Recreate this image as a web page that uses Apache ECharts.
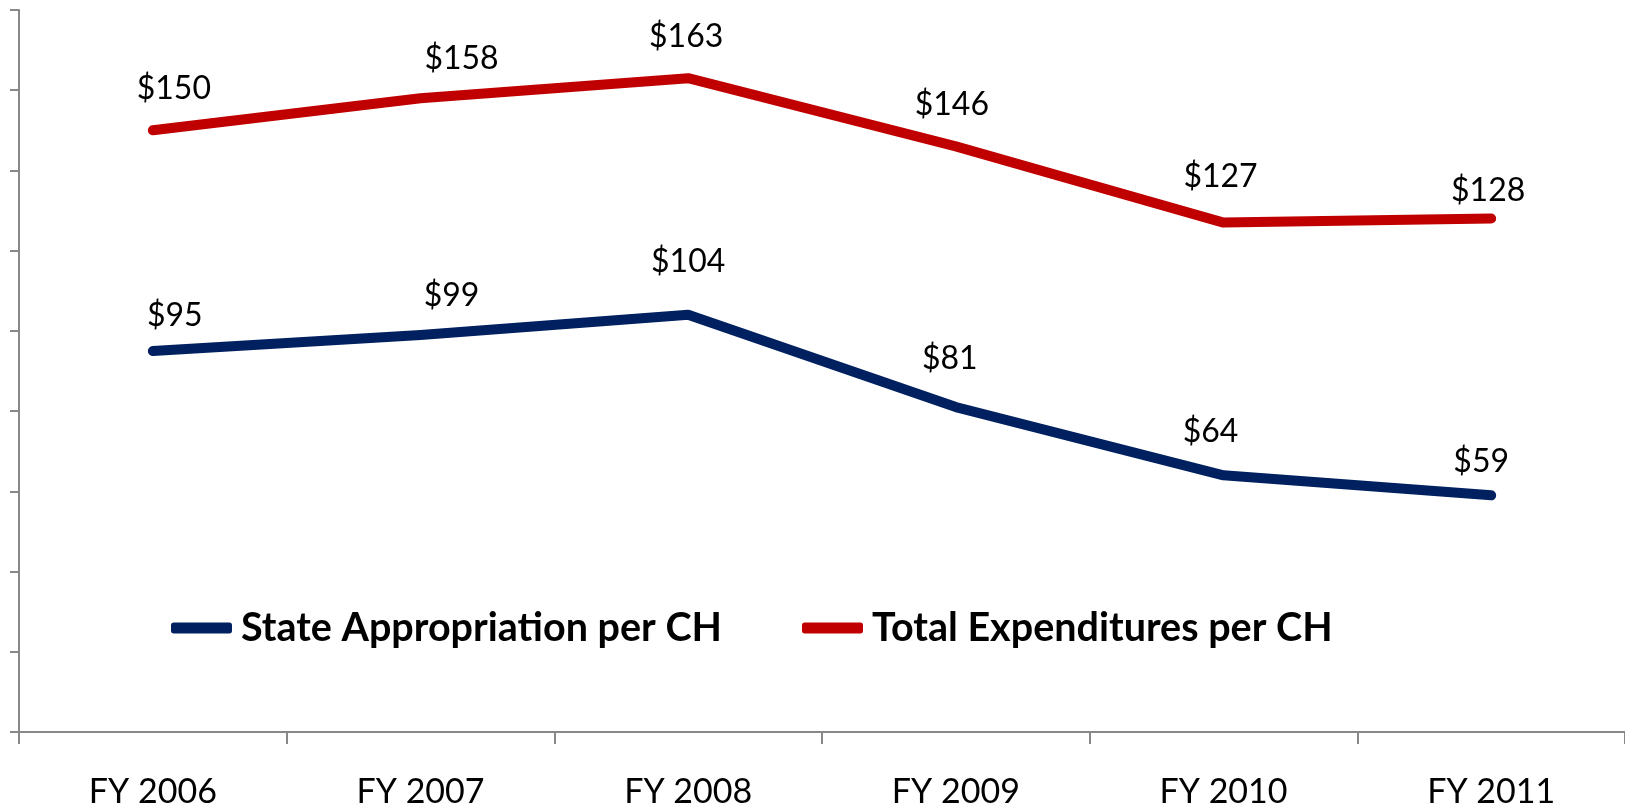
<!DOCTYPE html>
<html>
<head>
<meta charset="utf-8">
<script src="https://cdn.jsdelivr.net/npm/echarts@6/dist/echarts.min.js"></script>
<style>html,body{margin:0;padding:0;background:#fff}#c{width:1625px;height:809px}</style>
</head>
<body>
<div id="c"></div>
<script>
var categories = ['FY 2006', 'FY 2007', 'FY 2008', 'FY 2009', 'FY 2010', 'FY 2011'];
var stateAppropriation = [95, 99, 104, 81, 64, 59];
var totalExpenditures = [150, 158, 163, 146, 127, 128];
var seriesNames = ['State Appropriation per CH', 'Total Expenditures per CH'];
// label offsets (px) relative to each point
var stateLabelOffsets = [[22, -35], [31, -39], [0, -53], [-6, -48], [-13, -44], [-10, -34]];
var totalLabelOffsets = [[21, -42], [41, -40], [-2, -42], [-4, -42], [-3, -46], [-3, -28]];

function buildData(values, offsets) {
  return values.map(function (v, i) {
    return { value: v, label: { offset: offsets[i] } };
  });
}

var chart = echarts.init(document.getElementById('c'));
var labelStyle = {
  show: true, position: 'inside', color: '#000',
  fontFamily: 'Lato', fontSize: 32,
  formatter: function (p) { return '$' + p.value; }
};
chart.setOption({
  animation: false,
  grid: { left: 19, right: -6, top: 10, bottom: 73 },
  legend: {
    left: 166, top: 603,
    itemWidth: 61, itemHeight: 11, itemGap: 80,
    icon: 'roundRect',
    textStyle: { fontFamily: 'Lato', fontWeight: 'bold', fontSize: 39.5, color: '#000', padding: [0, 0, 0, 4] },
    data: seriesNames
  },
  xAxis: {
    type: 'category', data: categories, boundaryGap: true,
    axisLine: { lineStyle: { color: '#888', width: 2 } },
    axisTick: { show: true, length: 12, lineStyle: { color: '#888', width: 2 } },
    axisLabel: { color: '#000', fontFamily: 'Lato', fontSize: 34, margin: 43 }
  },
  yAxis: {
    type: 'value', min: 0, max: 180, interval: 20,
    axisLine: { show: true, lineStyle: { color: '#888', width: 2 } },
    axisTick: { show: true, length: 9, lineStyle: { color: '#888', width: 2 } },
    axisLabel: { show: false },
    splitLine: { show: false }
  },
  series: [
    {
      name: seriesNames[0], type: 'line',
      data: buildData(stateAppropriation, stateLabelOffsets),
      symbol: 'circle', symbolSize: 0.1,
      itemStyle: { color: '#002060' },
      lineStyle: { color: '#002060', width: 10, cap: 'round', join: 'round' },
      label: labelStyle
    },
    {
      name: seriesNames[1], type: 'line',
      data: buildData(totalExpenditures, totalLabelOffsets),
      symbol: 'circle', symbolSize: 0.1,
      itemStyle: { color: '#C00000' },
      lineStyle: { color: '#C00000', width: 10, cap: 'round', join: 'round' },
      label: labelStyle
    }
  ]
});
</script>
</body>
</html>
